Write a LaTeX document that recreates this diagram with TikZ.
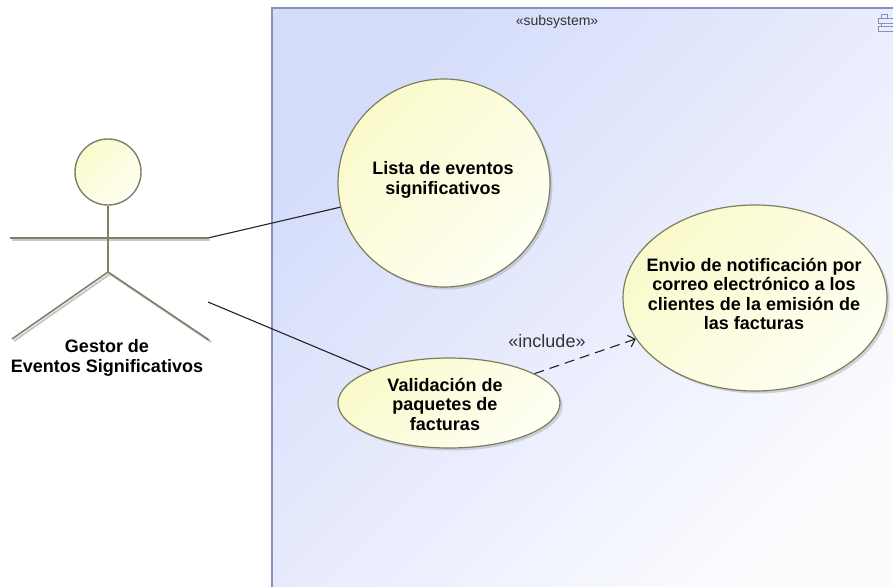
\documentclass[tikz,border=0pt]{standalone}
\usepackage{fontspec}
\setmainfont{Liberation Sans}
\usetikzlibrary{shapes.geometric,arrows.meta,shadows}

\definecolor{boxtop}{RGB}{212,220,250}
\definecolor{boxbot}{RGB}{252,252,255}
\definecolor{boxline}{RGB}{135,145,186}
\definecolor{ucfill}{RGB}{250,250,204}
\definecolor{ucfill2}{RGB}{255,255,244}
\definecolor{ucline}{RGB}{125,125,95}
\definecolor{actorline}{RGB}{128,128,104}
\definecolor{actorshadow}{RGB}{200,200,200}
\definecolor{wire}{RGB}{35,35,35}

\begin{document}
\begin{tikzpicture}[x=1pt,y=-1pt,
  usecase/.style={ellipse, draw=ucline, line width=1.2pt,
    top color=ucfill, bottom color=ucfill2, shading angle=45,
    inner sep=0pt,
    drop shadow={shadow xshift=2.5pt, shadow yshift=-2.5pt, opacity=0.3}},
  uctext/.style={align=center, inner sep=0pt,
    font=\fontsize{18}{19.5}\selectfont\bfseries},
  limb/.style={draw=actorline, line width=1.6pt},
  limbshadow/.style={draw=actorshadow, line width=2pt},
  assoc/.style={draw=wire, line width=1.1pt},
  depend/.style={draw=wire, line width=1.1pt, dash pattern=on 10pt off 6pt,
    -{Straight Barb[length=6pt,width=12pt,line width=1.1pt]}},
  stereo/.style={text=black!80, inner sep=0pt},
]
\useasboundingbox (0,0) rectangle (893,586);

% subsystem frame
\draw[boxline, line width=1.3pt, top color=boxtop, bottom color=boxbot,
      shading angle=45] (272,8) rectangle (905,600);
\draw[boxline, line width=2pt] (272,8) -- (272,600);
\node[stereo, font=\fontsize{14}{16}\selectfont] (sub) at (557,22) {«subsystem»};

% subsystem icon
\draw[boxline, line width=1pt] (881,15) rectangle (887,18.5);
\draw[boxline, line width=1pt] (878,18.5) rectangle (895,23.5);
\draw[boxline, line width=1pt] (881,23.5) -- (881,26.5);
\draw[boxline, line width=1pt] (878,26.5) rectangle (895,31.5);

% actor
\draw[limbshadow] (12,240) -- (210,240);
\draw[limbshadow] (110,274) -- (14,341);
\draw[limbshadow] (110,274) -- (211,342);
\node[circle, draw=actorline, line width=1.4pt, top color=ucfill, bottom color=ucfill2,
      shading angle=45, minimum size=66pt, inner sep=0pt] (head) at (108,172) {};
\draw[limb] (head.south) -- (108,272) coordinate (hip);
\draw[limb] (10,238) -- (208,238);
\draw[limb] (hip) -- (12,339);
\draw[limb] (hip) -- (209,340);
\node[uctext] (actorname) at (107,358) {Gestor de\\Eventos Significativos};

\coordinate (hand) at (208,238);
\coordinate (side) at (208,302);

% use cases
\node[usecase, minimum width=212pt, minimum height=208pt] (lista) at (444,183) {};
\node[uctext] (listatext) at (443,180) {Lista de eventos\\significativos};

\node[usecase, minimum width=264pt, minimum height=186pt] (envio) at (755,298) {};
\node[uctext] (enviotext) at (754,294) {Envio de notificación por\\correo electrónico a los\\clientes de la emisión de\\las facturas};

\node[usecase, minimum width=222pt, minimum height=90pt] (valid) at (449,403) {};
\node[uctext] (validtext) at (445,404) {Validación de\\paquetes de\\facturas};

% connectors
\draw[assoc] (hand) -- (lista);
\draw[assoc] (side) -- (valid);
\draw[depend] (valid) -- (envio);
\node[stereo, font=\fontsize{18}{20}\selectfont] (inc) at (547,341) {«include»};
\end{tikzpicture}
\end{document}
